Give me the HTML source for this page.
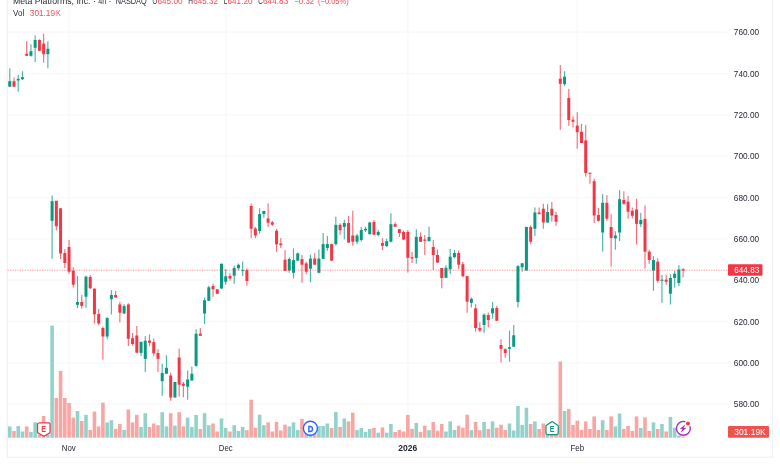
<!DOCTYPE html><html><head><meta charset="utf-8"><title>META chart</title>
<style>html,body{margin:0;padding:0;background:#fff}body{width:780px;height:470px;overflow:hidden;font-family:"Liberation Sans", sans-serif}svg{display:block;transform:translateZ(0);will-change:transform}text{font-family:"Liberation Sans", sans-serif}</style></head><body>
<svg width="780" height="470" viewBox="0 0 780 470">
<rect width="780" height="470" fill="#fff"/>
<rect x="7.5" y="31.4" width="720" height="1.6" fill="#f9f9fa"/>
<rect x="7.5" y="72.73" width="720" height="1.6" fill="#f9f9fa"/>
<rect x="7.5" y="114.06" width="720" height="1.6" fill="#f9f9fa"/>
<rect x="7.5" y="155.39" width="720" height="1.6" fill="#f9f9fa"/>
<rect x="7.5" y="196.72" width="720" height="1.6" fill="#f9f9fa"/>
<rect x="7.5" y="238.05" width="720" height="1.6" fill="#f9f9fa"/>
<rect x="7.5" y="279.38" width="720" height="1.6" fill="#f9f9fa"/>
<rect x="7.5" y="320.71" width="720" height="1.6" fill="#f9f9fa"/>
<rect x="7.5" y="362.04" width="720" height="1.6" fill="#f9f9fa"/>
<rect x="7.5" y="403.37" width="720" height="1.6" fill="#f9f9fa"/>
<rect x="68.24" y="0" width="1.6" height="437.7" fill="#f9f9fa"/>
<rect x="224.94" y="0" width="1.6" height="437.7" fill="#f9f9fa"/>
<rect x="407.04" y="0" width="1.6" height="437.7" fill="#f9f9fa"/>
<rect x="576.44" y="0" width="1.6" height="437.7" fill="#f9f9fa"/>
<rect x="6.8" y="0" width="1" height="457.5" fill="#eeeeef"/>
<rect x="772.2" y="0" width="1" height="457.5" fill="#eeeeef"/>
<rect x="6.8" y="456.7" width="766.4" height="1" fill="#eeeeef"/>
<g>
<rect x="7.95" y="426.4" width="3.6" height="11.3" fill="#92d2ca"/>
<rect x="12.18" y="431" width="3.6" height="6.7" fill="#f8a6a4"/>
<rect x="16.42" y="426" width="3.6" height="11.7" fill="#92d2ca"/>
<rect x="20.66" y="431.5" width="3.6" height="6.2" fill="#92d2ca"/>
<rect x="24.89" y="426.4" width="3.6" height="11.3" fill="#f8a6a4"/>
<rect x="29.12" y="431.9" width="3.6" height="5.8" fill="#92d2ca"/>
<rect x="33.36" y="422.4" width="3.6" height="15.3" fill="#92d2ca"/>
<rect x="37.6" y="434.7" width="3.6" height="3" fill="#f8a6a4"/>
<rect x="41.83" y="416" width="3.6" height="21.7" fill="#f8a6a4"/>
<rect x="46.07" y="434.7" width="3.6" height="3" fill="#92d2ca"/>
<rect x="50.3" y="325.7" width="3.6" height="112" fill="#92d2ca"/>
<rect x="54.54" y="398" width="3.6" height="39.7" fill="#f8a6a4"/>
<rect x="58.77" y="370.9" width="3.6" height="66.8" fill="#f8a6a4"/>
<rect x="63.01" y="398" width="3.6" height="39.7" fill="#f8a6a4"/>
<rect x="67.24" y="403" width="3.6" height="34.7" fill="#f8a6a4"/>
<rect x="71.48" y="417.7" width="3.6" height="20" fill="#f8a6a4"/>
<rect x="75.71" y="411" width="3.6" height="26.7" fill="#92d2ca"/>
<rect x="79.95" y="421" width="3.6" height="16.7" fill="#f8a6a4"/>
<rect x="84.18" y="414.9" width="3.6" height="22.8" fill="#92d2ca"/>
<rect x="88.42" y="429.9" width="3.6" height="7.8" fill="#f8a6a4"/>
<rect x="92.65" y="411.5" width="3.6" height="26.2" fill="#f8a6a4"/>
<rect x="96.89" y="426.4" width="3.6" height="11.3" fill="#f8a6a4"/>
<rect x="101.12" y="402.7" width="3.6" height="35" fill="#f8a6a4"/>
<rect x="105.36" y="422.4" width="3.6" height="15.3" fill="#92d2ca"/>
<rect x="109.59" y="420.2" width="3.6" height="17.5" fill="#92d2ca"/>
<rect x="113.83" y="428.9" width="3.6" height="8.8" fill="#f8a6a4"/>
<rect x="118.06" y="424" width="3.6" height="13.7" fill="#f8a6a4"/>
<rect x="122.3" y="429.9" width="3.6" height="7.8" fill="#92d2ca"/>
<rect x="126.53" y="409.4" width="3.6" height="28.3" fill="#f8a6a4"/>
<rect x="130.76" y="422.4" width="3.6" height="15.3" fill="#f8a6a4"/>
<rect x="135" y="414.9" width="3.6" height="22.8" fill="#f8a6a4"/>
<rect x="139.23" y="426.9" width="3.6" height="10.8" fill="#92d2ca"/>
<rect x="143.47" y="413.2" width="3.6" height="24.5" fill="#92d2ca"/>
<rect x="147.71" y="426.9" width="3.6" height="10.8" fill="#f8a6a4"/>
<rect x="151.94" y="423.5" width="3.6" height="14.2" fill="#f8a6a4"/>
<rect x="156.18" y="425.2" width="3.6" height="12.5" fill="#f8a6a4"/>
<rect x="160.41" y="412.2" width="3.6" height="25.5" fill="#92d2ca"/>
<rect x="164.65" y="426.4" width="3.6" height="11.3" fill="#92d2ca"/>
<rect x="168.88" y="413.2" width="3.6" height="24.5" fill="#f8a6a4"/>
<rect x="173.12" y="425.7" width="3.6" height="12" fill="#92d2ca"/>
<rect x="177.35" y="412.2" width="3.6" height="25.5" fill="#f8a6a4"/>
<rect x="181.59" y="426.4" width="3.6" height="11.3" fill="#f8a6a4"/>
<rect x="185.82" y="417.7" width="3.6" height="20" fill="#92d2ca"/>
<rect x="190.06" y="426.9" width="3.6" height="10.8" fill="#92d2ca"/>
<rect x="194.29" y="414.9" width="3.6" height="22.8" fill="#92d2ca"/>
<rect x="198.53" y="429" width="3.6" height="8.7" fill="#f8a6a4"/>
<rect x="202.76" y="413.2" width="3.6" height="24.5" fill="#92d2ca"/>
<rect x="207" y="425.2" width="3.6" height="12.5" fill="#92d2ca"/>
<rect x="211.23" y="423.5" width="3.6" height="14.2" fill="#f8a6a4"/>
<rect x="215.47" y="431.5" width="3.6" height="6.2" fill="#f8a6a4"/>
<rect x="219.7" y="418.5" width="3.6" height="19.2" fill="#92d2ca"/>
<rect x="223.94" y="428" width="3.6" height="9.7" fill="#92d2ca"/>
<rect x="228.17" y="431.5" width="3.6" height="6.2" fill="#f8a6a4"/>
<rect x="232.41" y="425.2" width="3.6" height="12.5" fill="#92d2ca"/>
<rect x="236.64" y="431" width="3.6" height="6.7" fill="#92d2ca"/>
<rect x="240.88" y="426.9" width="3.6" height="10.8" fill="#92d2ca"/>
<rect x="245.11" y="430.2" width="3.6" height="7.5" fill="#f8a6a4"/>
<rect x="249.34" y="399.7" width="3.6" height="38" fill="#f8a6a4"/>
<rect x="253.58" y="427.7" width="3.6" height="10" fill="#f8a6a4"/>
<rect x="257.81" y="414.7" width="3.6" height="23" fill="#92d2ca"/>
<rect x="262.05" y="425.2" width="3.6" height="12.5" fill="#92d2ca"/>
<rect x="266.29" y="422.4" width="3.6" height="15.3" fill="#f8a6a4"/>
<rect x="270.52" y="431.5" width="3.6" height="6.2" fill="#f8a6a4"/>
<rect x="274.75" y="421.9" width="3.6" height="15.8" fill="#f8a6a4"/>
<rect x="278.99" y="430.5" width="3.6" height="7.2" fill="#f8a6a4"/>
<rect x="283.23" y="424.7" width="3.6" height="13" fill="#f8a6a4"/>
<rect x="287.46" y="426.4" width="3.6" height="11.3" fill="#92d2ca"/>
<rect x="291.69" y="422.4" width="3.6" height="15.3" fill="#92d2ca"/>
<rect x="295.93" y="429.9" width="3.6" height="7.8" fill="#92d2ca"/>
<rect x="300.17" y="418.9" width="3.6" height="18.8" fill="#f8a6a4"/>
<rect x="304.4" y="429.7" width="3.6" height="8" fill="#f8a6a4"/>
<rect x="308.63" y="431.7" width="3.6" height="6" fill="#92d2ca"/>
<rect x="312.87" y="430.7" width="3.6" height="7" fill="#f8a6a4"/>
<rect x="317.11" y="426" width="3.6" height="11.7" fill="#92d2ca"/>
<rect x="321.34" y="426" width="3.6" height="11.7" fill="#92d2ca"/>
<rect x="325.57" y="423.5" width="3.6" height="14.2" fill="#92d2ca"/>
<rect x="329.81" y="428" width="3.6" height="9.7" fill="#f8a6a4"/>
<rect x="334.05" y="411.9" width="3.6" height="25.8" fill="#92d2ca"/>
<rect x="338.28" y="426.9" width="3.6" height="10.8" fill="#f8a6a4"/>
<rect x="342.51" y="418.5" width="3.6" height="19.2" fill="#92d2ca"/>
<rect x="346.75" y="421.4" width="3.6" height="16.3" fill="#f8a6a4"/>
<rect x="350.99" y="412.7" width="3.6" height="25" fill="#f8a6a4"/>
<rect x="355.22" y="429.9" width="3.6" height="7.8" fill="#92d2ca"/>
<rect x="359.46" y="428" width="3.6" height="9.7" fill="#92d2ca"/>
<rect x="363.69" y="431.9" width="3.6" height="5.8" fill="#92d2ca"/>
<rect x="367.93" y="428.9" width="3.6" height="8.8" fill="#92d2ca"/>
<rect x="372.16" y="428" width="3.6" height="9.7" fill="#f8a6a4"/>
<rect x="376.4" y="432.7" width="3.6" height="5" fill="#92d2ca"/>
<rect x="380.63" y="427.4" width="3.6" height="10.3" fill="#f8a6a4"/>
<rect x="384.87" y="432.7" width="3.6" height="5" fill="#92d2ca"/>
<rect x="389.1" y="424" width="3.6" height="13.7" fill="#92d2ca"/>
<rect x="393.34" y="431.9" width="3.6" height="5.8" fill="#f8a6a4"/>
<rect x="397.57" y="429.9" width="3.6" height="7.8" fill="#f8a6a4"/>
<rect x="401.81" y="431.5" width="3.6" height="6.2" fill="#f8a6a4"/>
<rect x="406.04" y="414.9" width="3.6" height="22.8" fill="#f8a6a4"/>
<rect x="410.28" y="428.9" width="3.6" height="8.8" fill="#f8a6a4"/>
<rect x="414.51" y="423" width="3.6" height="14.7" fill="#92d2ca"/>
<rect x="418.75" y="431.9" width="3.6" height="5.8" fill="#f8a6a4"/>
<rect x="422.98" y="425.7" width="3.6" height="12" fill="#f8a6a4"/>
<rect x="427.22" y="430.2" width="3.6" height="7.5" fill="#92d2ca"/>
<rect x="431.45" y="421.9" width="3.6" height="15.8" fill="#f8a6a4"/>
<rect x="435.69" y="430.7" width="3.6" height="7" fill="#f8a6a4"/>
<rect x="439.92" y="424" width="3.6" height="13.7" fill="#f8a6a4"/>
<rect x="444.16" y="431.5" width="3.6" height="6.2" fill="#92d2ca"/>
<rect x="448.39" y="421.4" width="3.6" height="16.3" fill="#92d2ca"/>
<rect x="452.62" y="429.9" width="3.6" height="7.8" fill="#92d2ca"/>
<rect x="456.86" y="425.7" width="3.6" height="12" fill="#f8a6a4"/>
<rect x="461.1" y="427.7" width="3.6" height="10" fill="#f8a6a4"/>
<rect x="465.33" y="414.7" width="3.6" height="23" fill="#f8a6a4"/>
<rect x="469.56" y="430.2" width="3.6" height="7.5" fill="#92d2ca"/>
<rect x="473.8" y="421.9" width="3.6" height="15.8" fill="#f8a6a4"/>
<rect x="478.04" y="430.2" width="3.6" height="7.5" fill="#f8a6a4"/>
<rect x="482.27" y="421.9" width="3.6" height="15.8" fill="#92d2ca"/>
<rect x="486.51" y="428.9" width="3.6" height="8.8" fill="#f8a6a4"/>
<rect x="490.74" y="421.4" width="3.6" height="16.3" fill="#92d2ca"/>
<rect x="494.98" y="427.7" width="3.6" height="10" fill="#f8a6a4"/>
<rect x="499.21" y="424.7" width="3.6" height="13" fill="#f8a6a4"/>
<rect x="503.45" y="429.9" width="3.6" height="7.8" fill="#f8a6a4"/>
<rect x="507.68" y="423.5" width="3.6" height="14.2" fill="#92d2ca"/>
<rect x="511.92" y="430.5" width="3.6" height="7.2" fill="#92d2ca"/>
<rect x="516.15" y="406" width="3.6" height="31.7" fill="#92d2ca"/>
<rect x="520.39" y="424.9" width="3.6" height="12.8" fill="#92d2ca"/>
<rect x="524.62" y="407.7" width="3.6" height="30" fill="#92d2ca"/>
<rect x="528.86" y="424" width="3.6" height="13.7" fill="#f8a6a4"/>
<rect x="533.09" y="421.4" width="3.6" height="16.3" fill="#92d2ca"/>
<rect x="537.33" y="429" width="3.6" height="8.7" fill="#f8a6a4"/>
<rect x="541.56" y="423.5" width="3.6" height="14.2" fill="#f8a6a4"/>
<rect x="545.8" y="431.7" width="3.6" height="6" fill="#92d2ca"/>
<rect x="550.03" y="431.7" width="3.6" height="6" fill="#f8a6a4"/>
<rect x="554.27" y="431.7" width="3.6" height="6" fill="#f8a6a4"/>
<rect x="558.5" y="361.5" width="3.6" height="76.2" fill="#f8a6a4"/>
<rect x="562.74" y="411" width="3.6" height="26.7" fill="#92d2ca"/>
<rect x="566.97" y="408.9" width="3.6" height="28.8" fill="#f8a6a4"/>
<rect x="571.21" y="424.9" width="3.6" height="12.8" fill="#f8a6a4"/>
<rect x="575.44" y="420.7" width="3.6" height="17" fill="#f8a6a4"/>
<rect x="579.68" y="429.9" width="3.6" height="7.8" fill="#f8a6a4"/>
<rect x="583.91" y="421.4" width="3.6" height="16.3" fill="#f8a6a4"/>
<rect x="588.15" y="429" width="3.6" height="8.7" fill="#f8a6a4"/>
<rect x="592.38" y="416.4" width="3.6" height="21.3" fill="#f8a6a4"/>
<rect x="596.62" y="429.9" width="3.6" height="7.8" fill="#f8a6a4"/>
<rect x="600.85" y="420.2" width="3.6" height="17.5" fill="#92d2ca"/>
<rect x="605.09" y="429.9" width="3.6" height="7.8" fill="#f8a6a4"/>
<rect x="609.32" y="416.4" width="3.6" height="21.3" fill="#f8a6a4"/>
<rect x="613.56" y="426.4" width="3.6" height="11.3" fill="#92d2ca"/>
<rect x="617.79" y="413.5" width="3.6" height="24.2" fill="#92d2ca"/>
<rect x="622.03" y="428.9" width="3.6" height="8.8" fill="#f8a6a4"/>
<rect x="626.26" y="426" width="3.6" height="11.7" fill="#f8a6a4"/>
<rect x="630.5" y="431" width="3.6" height="6.7" fill="#f8a6a4"/>
<rect x="634.73" y="416.4" width="3.6" height="21.3" fill="#f8a6a4"/>
<rect x="638.97" y="428" width="3.6" height="9.7" fill="#92d2ca"/>
<rect x="643.2" y="417.4" width="3.6" height="20.3" fill="#f8a6a4"/>
<rect x="647.44" y="431" width="3.6" height="6.7" fill="#f8a6a4"/>
<rect x="651.67" y="422.4" width="3.6" height="15.3" fill="#92d2ca"/>
<rect x="655.91" y="429" width="3.6" height="8.7" fill="#f8a6a4"/>
<rect x="660.14" y="424" width="3.6" height="13.7" fill="#92d2ca"/>
<rect x="664.38" y="431.5" width="3.6" height="6.2" fill="#f8a6a4"/>
<rect x="668.61" y="416.9" width="3.6" height="20.8" fill="#92d2ca"/>
<rect x="672.85" y="427.7" width="3.6" height="10" fill="#92d2ca"/>
<rect x="677.08" y="435.5" width="3.6" height="2.2" fill="#92d2ca"/>
<rect x="681.32" y="436.5" width="3.6" height="1.2" fill="#f8a6a4"/>
</g>
<g>
<rect x="9.18" y="68.3" width="1.15" height="18.4" fill="#089981" fill-opacity="0.72"/>
<rect x="8.25" y="81.2" width="3" height="5.5" fill="#089981"/>
<rect x="13.41" y="77.5" width="1.15" height="9.7" fill="#f23645" fill-opacity="0.72"/>
<rect x="12.48" y="81.2" width="3" height="5.5" fill="#f23645"/>
<rect x="17.64" y="75" width="1.15" height="16.7" fill="#089981" fill-opacity="0.72"/>
<rect x="16.72" y="78.8" width="3" height="1.7" fill="#089981"/>
<rect x="21.88" y="71.2" width="1.15" height="8.8" fill="#089981" fill-opacity="0.72"/>
<rect x="20.96" y="77.2" width="3" height="2" fill="#089981"/>
<rect x="26.12" y="41.2" width="1.15" height="14.6" fill="#f23645" fill-opacity="0.72"/>
<rect x="25.19" y="53.8" width="3" height="2" fill="#f23645"/>
<rect x="30.35" y="44.2" width="1.15" height="12.5" fill="#089981" fill-opacity="0.72"/>
<rect x="29.43" y="51.2" width="3" height="4.6" fill="#089981"/>
<rect x="34.59" y="35.5" width="1.15" height="26.5" fill="#089981" fill-opacity="0.72"/>
<rect x="33.66" y="40" width="3" height="7.8" fill="#089981"/>
<rect x="38.82" y="39.2" width="1.15" height="12" fill="#f23645" fill-opacity="0.72"/>
<rect x="37.9" y="40" width="3" height="10.8" fill="#f23645"/>
<rect x="43.05" y="33.8" width="1.15" height="29" fill="#f23645" fill-opacity="0.72"/>
<rect x="42.13" y="43.7" width="3" height="10.5" fill="#f23645"/>
<rect x="47.29" y="41.2" width="1.15" height="27.1" fill="#089981" fill-opacity="0.72"/>
<rect x="46.37" y="48.8" width="3" height="5.4" fill="#089981"/>
<rect x="51.52" y="195.5" width="1.15" height="63.2" fill="#089981" fill-opacity="0.72"/>
<rect x="50.6" y="201.2" width="3" height="19.6" fill="#089981"/>
<rect x="55.76" y="200.8" width="1.15" height="29.7" fill="#f23645" fill-opacity="0.72"/>
<rect x="54.84" y="200.8" width="3" height="25.4" fill="#f23645"/>
<rect x="60" y="208" width="1.15" height="51" fill="#f23645" fill-opacity="0.72"/>
<rect x="59.07" y="208.3" width="3" height="45.2" fill="#f23645"/>
<rect x="64.23" y="249.2" width="1.15" height="18.8" fill="#f23645" fill-opacity="0.72"/>
<rect x="63.31" y="253" width="3" height="10" fill="#f23645"/>
<rect x="68.47" y="240" width="1.15" height="33.8" fill="#f23645" fill-opacity="0.72"/>
<rect x="67.54" y="247" width="3" height="24.7" fill="#f23645"/>
<rect x="72.7" y="267.2" width="1.15" height="20.3" fill="#f23645" fill-opacity="0.72"/>
<rect x="71.78" y="270.8" width="3" height="13.9" fill="#f23645"/>
<rect x="76.94" y="276.2" width="1.15" height="32" fill="#089981" fill-opacity="0.72"/>
<rect x="76.01" y="302" width="3" height="2.8" fill="#089981"/>
<rect x="81.17" y="295" width="1.15" height="13.6" fill="#f23645" fill-opacity="0.72"/>
<rect x="80.25" y="302" width="3" height="3.9" fill="#f23645"/>
<rect x="85.41" y="275.5" width="1.15" height="32.3" fill="#089981" fill-opacity="0.72"/>
<rect x="84.48" y="276.7" width="3" height="20" fill="#089981"/>
<rect x="89.64" y="275" width="1.15" height="13.7" fill="#f23645" fill-opacity="0.72"/>
<rect x="88.72" y="277" width="3" height="11.3" fill="#f23645"/>
<rect x="93.88" y="288.3" width="1.15" height="35.2" fill="#f23645" fill-opacity="0.72"/>
<rect x="92.95" y="288.7" width="3" height="25.6" fill="#f23645"/>
<rect x="98.11" y="309" width="1.15" height="16.2" fill="#f23645" fill-opacity="0.72"/>
<rect x="97.19" y="314" width="3" height="9.5" fill="#f23645"/>
<rect x="102.34" y="326.5" width="1.15" height="33.2" fill="#f23645" fill-opacity="0.72"/>
<rect x="101.42" y="328" width="3" height="8.5" fill="#f23645"/>
<rect x="106.58" y="317.2" width="1.15" height="22.1" fill="#089981" fill-opacity="0.72"/>
<rect x="105.66" y="318" width="3" height="18.5" fill="#089981"/>
<rect x="110.82" y="290" width="1.15" height="24.5" fill="#089981" fill-opacity="0.72"/>
<rect x="109.89" y="295" width="3" height="4.2" fill="#089981"/>
<rect x="115.05" y="290.8" width="1.15" height="7" fill="#f23645" fill-opacity="0.72"/>
<rect x="114.13" y="295" width="3" height="2.5" fill="#f23645"/>
<rect x="119.29" y="301.7" width="1.15" height="20.6" fill="#f23645" fill-opacity="0.72"/>
<rect x="118.36" y="304.5" width="3" height="8.2" fill="#f23645"/>
<rect x="123.52" y="304.2" width="1.15" height="9.9" fill="#089981" fill-opacity="0.72"/>
<rect x="122.6" y="306.1" width="3" height="7.3" fill="#089981"/>
<rect x="127.76" y="303.2" width="1.15" height="42.8" fill="#f23645" fill-opacity="0.72"/>
<rect x="126.83" y="304.5" width="3" height="34.3" fill="#f23645"/>
<rect x="131.99" y="333" width="1.15" height="12.7" fill="#f23645" fill-opacity="0.72"/>
<rect x="131.06" y="338.2" width="3" height="5.8" fill="#f23645"/>
<rect x="136.23" y="326" width="1.15" height="27.2" fill="#f23645" fill-opacity="0.72"/>
<rect x="135.3" y="335.5" width="3" height="17.2" fill="#f23645"/>
<rect x="140.46" y="341.8" width="1.15" height="14.2" fill="#089981" fill-opacity="0.72"/>
<rect x="139.53" y="341.8" width="3" height="11.1" fill="#089981"/>
<rect x="144.7" y="336.1" width="1.15" height="36" fill="#089981" fill-opacity="0.72"/>
<rect x="143.77" y="340.8" width="3" height="18.1" fill="#089981"/>
<rect x="148.93" y="334.4" width="1.15" height="11.7" fill="#f23645" fill-opacity="0.72"/>
<rect x="148.01" y="340.6" width="3" height="2.2" fill="#f23645"/>
<rect x="153.17" y="338.4" width="1.15" height="17.7" fill="#f23645" fill-opacity="0.72"/>
<rect x="152.24" y="342.1" width="3" height="11.3" fill="#f23645"/>
<rect x="157.4" y="349.2" width="1.15" height="22.6" fill="#f23645" fill-opacity="0.72"/>
<rect x="156.48" y="353" width="3" height="5.9" fill="#f23645"/>
<rect x="161.64" y="363.7" width="1.15" height="32.1" fill="#089981" fill-opacity="0.72"/>
<rect x="160.71" y="373" width="3" height="8.2" fill="#089981"/>
<rect x="165.87" y="355.3" width="1.15" height="18.9" fill="#089981" fill-opacity="0.72"/>
<rect x="164.95" y="367.8" width="3" height="5.9" fill="#089981"/>
<rect x="170.11" y="372.5" width="1.15" height="28.3" fill="#f23645" fill-opacity="0.72"/>
<rect x="169.18" y="375.5" width="3" height="22" fill="#f23645"/>
<rect x="174.34" y="382" width="1.15" height="15.5" fill="#089981" fill-opacity="0.72"/>
<rect x="173.42" y="382" width="3" height="15.5" fill="#089981"/>
<rect x="178.58" y="348.7" width="1.15" height="48" fill="#f23645" fill-opacity="0.72"/>
<rect x="177.65" y="357.5" width="3" height="27.2" fill="#f23645"/>
<rect x="182.81" y="382" width="1.15" height="15.2" fill="#f23645" fill-opacity="0.72"/>
<rect x="181.89" y="383.7" width="3" height="2.1" fill="#f23645"/>
<rect x="187.05" y="370.5" width="1.15" height="29.2" fill="#089981" fill-opacity="0.72"/>
<rect x="186.12" y="379.5" width="3" height="7.2" fill="#089981"/>
<rect x="191.28" y="366.7" width="1.15" height="14.1" fill="#089981" fill-opacity="0.72"/>
<rect x="190.36" y="373.8" width="3" height="6.7" fill="#089981"/>
<rect x="195.52" y="329.3" width="1.15" height="37.4" fill="#089981" fill-opacity="0.72"/>
<rect x="194.59" y="333.8" width="3" height="32" fill="#089981"/>
<rect x="199.75" y="328" width="1.15" height="8" fill="#f23645" fill-opacity="0.72"/>
<rect x="198.83" y="333.7" width="3" height="2.1" fill="#f23645"/>
<rect x="203.99" y="297.7" width="1.15" height="26.3" fill="#089981" fill-opacity="0.72"/>
<rect x="203.06" y="300.2" width="3" height="13.3" fill="#089981"/>
<rect x="208.22" y="285.7" width="1.15" height="15.3" fill="#089981" fill-opacity="0.72"/>
<rect x="207.3" y="287.3" width="3" height="13.4" fill="#089981"/>
<rect x="212.46" y="283.8" width="1.15" height="13" fill="#f23645" fill-opacity="0.72"/>
<rect x="211.53" y="286" width="3" height="3.3" fill="#f23645"/>
<rect x="216.69" y="289" width="1.15" height="5" fill="#f23645" fill-opacity="0.72"/>
<rect x="215.77" y="289.3" width="3" height="4.5" fill="#f23645"/>
<rect x="220.93" y="263.5" width="1.15" height="25.3" fill="#089981" fill-opacity="0.72"/>
<rect x="220" y="263.8" width="3" height="24.7" fill="#089981"/>
<rect x="225.16" y="269" width="1.15" height="15.7" fill="#089981" fill-opacity="0.72"/>
<rect x="224.24" y="276.3" width="3" height="5.5" fill="#089981"/>
<rect x="229.4" y="273.2" width="1.15" height="7.5" fill="#f23645" fill-opacity="0.72"/>
<rect x="228.47" y="276" width="3" height="2.5" fill="#f23645"/>
<rect x="233.63" y="265.7" width="1.15" height="18.1" fill="#089981" fill-opacity="0.72"/>
<rect x="232.71" y="268" width="3" height="7.7" fill="#089981"/>
<rect x="237.87" y="263.5" width="1.15" height="6.7" fill="#089981" fill-opacity="0.72"/>
<rect x="236.94" y="264.8" width="3" height="3.4" fill="#089981"/>
<rect x="242.1" y="261.5" width="1.15" height="14.5" fill="#089981" fill-opacity="0.72"/>
<rect x="241.18" y="270.2" width="3" height="0.9" fill="#089981"/>
<rect x="246.34" y="268.5" width="1.15" height="17.2" fill="#f23645" fill-opacity="0.72"/>
<rect x="245.41" y="270.2" width="3" height="10.8" fill="#f23645"/>
<rect x="250.57" y="203.5" width="1.15" height="34.7" fill="#f23645" fill-opacity="0.72"/>
<rect x="249.65" y="206" width="3" height="22.8" fill="#f23645"/>
<rect x="254.81" y="226.8" width="1.15" height="11.4" fill="#f23645" fill-opacity="0.72"/>
<rect x="253.88" y="228.5" width="3" height="7" fill="#f23645"/>
<rect x="259.04" y="208.2" width="1.15" height="25.6" fill="#089981" fill-opacity="0.72"/>
<rect x="258.12" y="214" width="3" height="17" fill="#089981"/>
<rect x="263.28" y="210.7" width="1.15" height="7" fill="#089981" fill-opacity="0.72"/>
<rect x="262.35" y="211" width="3" height="3" fill="#089981"/>
<rect x="267.51" y="203.5" width="1.15" height="23.3" fill="#f23645" fill-opacity="0.72"/>
<rect x="266.59" y="218.5" width="3" height="4.2" fill="#f23645"/>
<rect x="271.75" y="221" width="1.15" height="5" fill="#f23645" fill-opacity="0.72"/>
<rect x="270.82" y="222.3" width="3" height="2.4" fill="#f23645"/>
<rect x="275.98" y="228.8" width="1.15" height="23" fill="#f23645" fill-opacity="0.72"/>
<rect x="275.06" y="230.7" width="3" height="13.6" fill="#f23645"/>
<rect x="280.22" y="238.2" width="1.15" height="9.8" fill="#f23645" fill-opacity="0.72"/>
<rect x="279.29" y="243.5" width="3" height="1.7" fill="#f23645"/>
<rect x="284.45" y="250.2" width="1.15" height="20.8" fill="#f23645" fill-opacity="0.72"/>
<rect x="283.53" y="259.7" width="3" height="11.1" fill="#f23645"/>
<rect x="288.69" y="257.3" width="1.15" height="15.4" fill="#089981" fill-opacity="0.72"/>
<rect x="287.76" y="259" width="3" height="11.4" fill="#089981"/>
<rect x="292.92" y="248.4" width="1.15" height="30" fill="#089981" fill-opacity="0.72"/>
<rect x="292" y="260.1" width="3" height="12.7" fill="#089981"/>
<rect x="297.16" y="252.6" width="1.15" height="8.3" fill="#089981" fill-opacity="0.72"/>
<rect x="296.23" y="253.4" width="3" height="7.2" fill="#089981"/>
<rect x="301.39" y="255.1" width="1.15" height="27.7" fill="#f23645" fill-opacity="0.72"/>
<rect x="300.47" y="259.1" width="3" height="5.6" fill="#f23645"/>
<rect x="305.63" y="261.7" width="1.15" height="12.5" fill="#f23645" fill-opacity="0.72"/>
<rect x="304.7" y="263.4" width="3" height="8.3" fill="#f23645"/>
<rect x="309.86" y="254.5" width="1.15" height="27.7" fill="#089981" fill-opacity="0.72"/>
<rect x="308.94" y="258.6" width="3" height="10.1" fill="#089981"/>
<rect x="314.1" y="253.1" width="1.15" height="11.8" fill="#f23645" fill-opacity="0.72"/>
<rect x="313.17" y="258.6" width="3" height="6.1" fill="#f23645"/>
<rect x="318.33" y="249.5" width="1.15" height="23.8" fill="#089981" fill-opacity="0.72"/>
<rect x="317.41" y="258.6" width="3" height="14.2" fill="#089981"/>
<rect x="322.57" y="233" width="1.15" height="26.2" fill="#089981" fill-opacity="0.72"/>
<rect x="321.64" y="244.1" width="3" height="14.8" fill="#089981"/>
<rect x="326.8" y="235.9" width="1.15" height="14.9" fill="#089981" fill-opacity="0.72"/>
<rect x="325.88" y="244.1" width="3" height="3.9" fill="#089981"/>
<rect x="331.04" y="243.6" width="1.15" height="17.3" fill="#f23645" fill-opacity="0.72"/>
<rect x="330.11" y="244.1" width="3" height="16.5" fill="#f23645"/>
<rect x="335.27" y="216.7" width="1.15" height="28.8" fill="#089981" fill-opacity="0.72"/>
<rect x="334.35" y="224.9" width="3" height="19.3" fill="#089981"/>
<rect x="339.51" y="223.2" width="1.15" height="11.5" fill="#f23645" fill-opacity="0.72"/>
<rect x="338.58" y="224.9" width="3" height="5.3" fill="#f23645"/>
<rect x="343.74" y="219.7" width="1.15" height="19.7" fill="#089981" fill-opacity="0.72"/>
<rect x="342.81" y="223" width="3" height="3.9" fill="#089981"/>
<rect x="347.98" y="215.9" width="1.15" height="26.9" fill="#f23645" fill-opacity="0.72"/>
<rect x="347.05" y="223" width="3" height="19.6" fill="#f23645"/>
<rect x="352.21" y="210.6" width="1.15" height="35.2" fill="#f23645" fill-opacity="0.72"/>
<rect x="351.29" y="235.5" width="3" height="6.2" fill="#f23645"/>
<rect x="356.45" y="234" width="1.15" height="10.2" fill="#089981" fill-opacity="0.72"/>
<rect x="355.52" y="235.5" width="3" height="6.2" fill="#089981"/>
<rect x="360.68" y="227" width="1.15" height="14.7" fill="#089981" fill-opacity="0.72"/>
<rect x="359.76" y="230" width="3" height="10" fill="#089981"/>
<rect x="364.92" y="226.7" width="1.15" height="5.3" fill="#089981" fill-opacity="0.72"/>
<rect x="363.99" y="228.8" width="3" height="1.5" fill="#089981"/>
<rect x="369.15" y="221.7" width="1.15" height="12.8" fill="#089981" fill-opacity="0.72"/>
<rect x="368.23" y="222.5" width="3" height="11.7" fill="#089981"/>
<rect x="373.39" y="220" width="1.15" height="15" fill="#f23645" fill-opacity="0.72"/>
<rect x="372.46" y="222" width="3" height="12.7" fill="#f23645"/>
<rect x="377.62" y="230" width="1.15" height="6.3" fill="#089981" fill-opacity="0.72"/>
<rect x="376.7" y="232" width="3" height="3" fill="#089981"/>
<rect x="381.86" y="238.3" width="1.15" height="11.7" fill="#f23645" fill-opacity="0.72"/>
<rect x="380.93" y="243" width="3" height="2.8" fill="#f23645"/>
<rect x="386.09" y="238.7" width="1.15" height="8" fill="#089981" fill-opacity="0.72"/>
<rect x="385.17" y="241.2" width="3" height="5" fill="#089981"/>
<rect x="390.33" y="213.3" width="1.15" height="29.2" fill="#089981" fill-opacity="0.72"/>
<rect x="389.4" y="224.2" width="3" height="17.5" fill="#089981"/>
<rect x="394.56" y="222.2" width="1.15" height="4.8" fill="#f23645" fill-opacity="0.72"/>
<rect x="393.64" y="224.2" width="3" height="2.5" fill="#f23645"/>
<rect x="398.8" y="228.7" width="1.15" height="8.3" fill="#f23645" fill-opacity="0.72"/>
<rect x="397.87" y="229.2" width="3" height="3.8" fill="#f23645"/>
<rect x="403.03" y="230.5" width="1.15" height="9.5" fill="#f23645" fill-opacity="0.72"/>
<rect x="402.11" y="232" width="3" height="7.5" fill="#f23645"/>
<rect x="407.27" y="230" width="1.15" height="42.5" fill="#f23645" fill-opacity="0.72"/>
<rect x="406.34" y="232" width="3" height="25.8" fill="#f23645"/>
<rect x="411.5" y="252" width="1.15" height="11" fill="#f23645" fill-opacity="0.72"/>
<rect x="410.58" y="257.2" width="3" height="1.3" fill="#f23645"/>
<rect x="415.74" y="229.2" width="1.15" height="34.5" fill="#089981" fill-opacity="0.72"/>
<rect x="414.81" y="236.8" width="3" height="21.1" fill="#089981"/>
<rect x="419.97" y="232.5" width="1.15" height="9.5" fill="#f23645" fill-opacity="0.72"/>
<rect x="419.05" y="236.7" width="3" height="5" fill="#f23645"/>
<rect x="424.21" y="235" width="1.15" height="20" fill="#f23645" fill-opacity="0.72"/>
<rect x="423.28" y="239.5" width="3" height="1.3" fill="#f23645"/>
<rect x="428.44" y="226.7" width="1.15" height="14.6" fill="#089981" fill-opacity="0.72"/>
<rect x="427.52" y="237" width="3" height="4.2" fill="#089981"/>
<rect x="432.68" y="240" width="1.15" height="30" fill="#f23645" fill-opacity="0.72"/>
<rect x="431.75" y="247" width="3" height="8" fill="#f23645"/>
<rect x="436.91" y="249.5" width="1.15" height="13.5" fill="#f23645" fill-opacity="0.72"/>
<rect x="435.99" y="255" width="3" height="7.5" fill="#f23645"/>
<rect x="441.15" y="268" width="1.15" height="20.3" fill="#f23645" fill-opacity="0.72"/>
<rect x="440.22" y="268" width="3" height="10" fill="#f23645"/>
<rect x="445.38" y="265.3" width="1.15" height="12.7" fill="#089981" fill-opacity="0.72"/>
<rect x="444.46" y="267.8" width="3" height="10" fill="#089981"/>
<rect x="449.62" y="248.8" width="1.15" height="25" fill="#089981" fill-opacity="0.72"/>
<rect x="448.69" y="256.7" width="3" height="12.5" fill="#089981"/>
<rect x="453.85" y="250" width="1.15" height="8.3" fill="#089981" fill-opacity="0.72"/>
<rect x="452.93" y="253" width="3" height="4.2" fill="#089981"/>
<rect x="458.09" y="250.5" width="1.15" height="18.7" fill="#f23645" fill-opacity="0.72"/>
<rect x="457.16" y="253" width="3" height="11.7" fill="#f23645"/>
<rect x="462.32" y="262" width="1.15" height="15.2" fill="#f23645" fill-opacity="0.72"/>
<rect x="461.4" y="264.2" width="3" height="12" fill="#f23645"/>
<rect x="466.56" y="275.8" width="1.15" height="37" fill="#f23645" fill-opacity="0.72"/>
<rect x="465.63" y="276.2" width="3" height="25.5" fill="#f23645"/>
<rect x="470.79" y="297.5" width="1.15" height="10" fill="#089981" fill-opacity="0.72"/>
<rect x="469.87" y="298.8" width="3" height="4" fill="#089981"/>
<rect x="475.03" y="304.2" width="1.15" height="27.5" fill="#f23645" fill-opacity="0.72"/>
<rect x="474.1" y="308.3" width="3" height="19.7" fill="#f23645"/>
<rect x="479.26" y="322.2" width="1.15" height="9.8" fill="#f23645" fill-opacity="0.72"/>
<rect x="478.34" y="328" width="3" height="2.5" fill="#f23645"/>
<rect x="483.5" y="313.3" width="1.15" height="19.7" fill="#089981" fill-opacity="0.72"/>
<rect x="482.57" y="314.7" width="3" height="10.3" fill="#089981"/>
<rect x="487.73" y="312.5" width="1.15" height="15" fill="#f23645" fill-opacity="0.72"/>
<rect x="486.81" y="315" width="3" height="5" fill="#f23645"/>
<rect x="491.97" y="302" width="1.15" height="16.7" fill="#089981" fill-opacity="0.72"/>
<rect x="491.04" y="308.3" width="3" height="5" fill="#089981"/>
<rect x="496.2" y="305.8" width="1.15" height="15" fill="#f23645" fill-opacity="0.72"/>
<rect x="495.28" y="308" width="3" height="12.8" fill="#f23645"/>
<rect x="500.44" y="339.2" width="1.15" height="23.3" fill="#f23645" fill-opacity="0.72"/>
<rect x="499.51" y="345" width="3" height="3.8" fill="#f23645"/>
<rect x="504.67" y="348.3" width="1.15" height="9.5" fill="#f23645" fill-opacity="0.72"/>
<rect x="503.75" y="349.2" width="3" height="3.8" fill="#f23645"/>
<rect x="508.91" y="330.5" width="1.15" height="31.2" fill="#089981" fill-opacity="0.72"/>
<rect x="507.98" y="347.2" width="3" height="1.6" fill="#089981"/>
<rect x="513.14" y="325" width="1.15" height="21.7" fill="#089981" fill-opacity="0.72"/>
<rect x="512.22" y="335.3" width="3" height="11.4" fill="#089981"/>
<rect x="517.38" y="265" width="1.15" height="42.5" fill="#089981" fill-opacity="0.72"/>
<rect x="516.45" y="266.2" width="3" height="35.8" fill="#089981"/>
<rect x="521.61" y="263" width="1.15" height="8.7" fill="#089981" fill-opacity="0.72"/>
<rect x="520.69" y="263.3" width="3" height="3.9" fill="#089981"/>
<rect x="525.85" y="226.7" width="1.15" height="44.1" fill="#089981" fill-opacity="0.72"/>
<rect x="524.92" y="227" width="3" height="43.5" fill="#089981"/>
<rect x="530.08" y="225.2" width="1.15" height="19" fill="#f23645" fill-opacity="0.72"/>
<rect x="529.16" y="227" width="3" height="14.7" fill="#f23645"/>
<rect x="534.31" y="207.5" width="1.15" height="28.7" fill="#089981" fill-opacity="0.72"/>
<rect x="533.39" y="212.5" width="3" height="16.3" fill="#089981"/>
<rect x="538.55" y="207.5" width="1.15" height="6.7" fill="#f23645" fill-opacity="0.72"/>
<rect x="537.62" y="212.5" width="3" height="1.7" fill="#f23645"/>
<rect x="542.78" y="203.8" width="1.15" height="25" fill="#f23645" fill-opacity="0.72"/>
<rect x="541.86" y="208.7" width="3" height="13.8" fill="#f23645"/>
<rect x="547.02" y="204.2" width="1.15" height="18.3" fill="#089981" fill-opacity="0.72"/>
<rect x="546.1" y="212" width="3" height="10.5" fill="#089981"/>
<rect x="551.25" y="202" width="1.15" height="19.7" fill="#f23645" fill-opacity="0.72"/>
<rect x="550.33" y="208.8" width="3" height="6.7" fill="#f23645"/>
<rect x="555.49" y="212" width="1.15" height="13.8" fill="#f23645" fill-opacity="0.72"/>
<rect x="554.57" y="215" width="3" height="6.7" fill="#f23645"/>
<rect x="559.73" y="65" width="1.15" height="64.8" fill="#f23645" fill-opacity="0.72"/>
<rect x="558.8" y="78.7" width="3" height="5.1" fill="#f23645"/>
<rect x="563.96" y="71.2" width="1.15" height="15" fill="#089981" fill-opacity="0.72"/>
<rect x="563.04" y="76.7" width="3" height="7.5" fill="#089981"/>
<rect x="568.2" y="88.8" width="1.15" height="37" fill="#f23645" fill-opacity="0.72"/>
<rect x="567.27" y="98" width="3" height="22" fill="#f23645"/>
<rect x="572.43" y="116.3" width="1.15" height="11.1" fill="#f23645" fill-opacity="0.72"/>
<rect x="571.5" y="119.7" width="3" height="2" fill="#f23645"/>
<rect x="576.66" y="112.2" width="1.15" height="36.6" fill="#f23645" fill-opacity="0.72"/>
<rect x="575.74" y="125.6" width="3" height="6.6" fill="#f23645"/>
<rect x="580.9" y="123.8" width="1.15" height="19.2" fill="#f23645" fill-opacity="0.72"/>
<rect x="579.98" y="131.7" width="3" height="11.3" fill="#f23645"/>
<rect x="585.13" y="125" width="1.15" height="51.7" fill="#f23645" fill-opacity="0.72"/>
<rect x="584.21" y="140.5" width="3" height="32.5" fill="#f23645"/>
<rect x="589.37" y="172.7" width="1.15" height="11.1" fill="#f23645" fill-opacity="0.72"/>
<rect x="588.45" y="172.7" width="3" height="1.1" fill="#f23645"/>
<rect x="593.61" y="178.7" width="1.15" height="44.3" fill="#f23645" fill-opacity="0.72"/>
<rect x="592.68" y="181.2" width="3" height="34.3" fill="#f23645"/>
<rect x="597.84" y="208" width="1.15" height="13.7" fill="#f23645" fill-opacity="0.72"/>
<rect x="596.92" y="215" width="3" height="5.8" fill="#f23645"/>
<rect x="602.08" y="194.1" width="1.15" height="57.6" fill="#089981" fill-opacity="0.72"/>
<rect x="601.15" y="202.8" width="3" height="29.7" fill="#089981"/>
<rect x="606.31" y="195.2" width="1.15" height="25.6" fill="#f23645" fill-opacity="0.72"/>
<rect x="605.38" y="202.8" width="3" height="15.9" fill="#f23645"/>
<rect x="610.54" y="214.2" width="1.15" height="52.5" fill="#f23645" fill-opacity="0.72"/>
<rect x="609.62" y="227" width="3" height="11" fill="#f23645"/>
<rect x="614.78" y="231.2" width="1.15" height="18.5" fill="#089981" fill-opacity="0.72"/>
<rect x="613.86" y="235.5" width="3" height="2.8" fill="#089981"/>
<rect x="619.01" y="190.2" width="1.15" height="50.8" fill="#089981" fill-opacity="0.72"/>
<rect x="618.09" y="199.2" width="3" height="33.3" fill="#089981"/>
<rect x="623.25" y="191.3" width="1.15" height="13.4" fill="#f23645" fill-opacity="0.72"/>
<rect x="622.33" y="200" width="3" height="3.8" fill="#f23645"/>
<rect x="627.49" y="195.8" width="1.15" height="22.9" fill="#f23645" fill-opacity="0.72"/>
<rect x="626.56" y="201.7" width="3" height="10" fill="#f23645"/>
<rect x="631.72" y="207.5" width="1.15" height="10.8" fill="#f23645" fill-opacity="0.72"/>
<rect x="630.8" y="210.8" width="3" height="5" fill="#f23645"/>
<rect x="635.96" y="198.8" width="1.15" height="45.7" fill="#f23645" fill-opacity="0.72"/>
<rect x="635.03" y="209.5" width="3" height="14.3" fill="#f23645"/>
<rect x="640.19" y="213" width="1.15" height="14" fill="#089981" fill-opacity="0.72"/>
<rect x="639.27" y="220" width="3" height="4.2" fill="#089981"/>
<rect x="644.42" y="205.5" width="1.15" height="63.2" fill="#f23645" fill-opacity="0.72"/>
<rect x="643.5" y="218.8" width="3" height="32.9" fill="#f23645"/>
<rect x="648.66" y="249.7" width="1.15" height="14.1" fill="#f23645" fill-opacity="0.72"/>
<rect x="647.74" y="251.7" width="3" height="8.3" fill="#f23645"/>
<rect x="652.89" y="256.2" width="1.15" height="34.6" fill="#089981" fill-opacity="0.72"/>
<rect x="651.97" y="260" width="3" height="10.5" fill="#089981"/>
<rect x="657.13" y="258.3" width="1.15" height="24.2" fill="#f23645" fill-opacity="0.72"/>
<rect x="656.21" y="261.7" width="3" height="19.1" fill="#f23645"/>
<rect x="661.37" y="275" width="1.15" height="27.8" fill="#089981" fill-opacity="0.72"/>
<rect x="660.44" y="279.7" width="3" height="1.1" fill="#089981"/>
<rect x="665.6" y="274.7" width="1.15" height="10" fill="#f23645" fill-opacity="0.72"/>
<rect x="664.68" y="279.7" width="3" height="2" fill="#f23645"/>
<rect x="669.84" y="274.2" width="1.15" height="30.3" fill="#089981" fill-opacity="0.72"/>
<rect x="668.91" y="278" width="3" height="15.7" fill="#089981"/>
<rect x="674.07" y="270.8" width="1.15" height="16.7" fill="#089981" fill-opacity="0.72"/>
<rect x="673.15" y="273.7" width="3" height="4.3" fill="#089981"/>
<rect x="678.3" y="265" width="1.15" height="21.2" fill="#089981" fill-opacity="0.72"/>
<rect x="677.38" y="269.5" width="3" height="13.5" fill="#089981"/>
<rect x="682.54" y="268.3" width="1.15" height="8.9" fill="#f23645" fill-opacity="0.72"/>
<rect x="681.62" y="269.2" width="3" height="1.3" fill="#f23645"/>
</g>
<line x1="7.5" y1="270.2" x2="728" y2="270.2" stroke="#f23645" stroke-width="0.9" stroke-dasharray="1.23 1.23" opacity="0.6"/>
<text x="733.8" y="35.25" font-size="8.9" textLength="25.3" lengthAdjust="spacingAndGlyphs" fill="#1e222d">760.00</text>
<text x="733.8" y="76.58" font-size="8.9" textLength="25.3" lengthAdjust="spacingAndGlyphs" fill="#1e222d">740.00</text>
<text x="733.8" y="117.91" font-size="8.9" textLength="25.3" lengthAdjust="spacingAndGlyphs" fill="#1e222d">720.00</text>
<text x="733.8" y="159.24" font-size="8.9" textLength="25.3" lengthAdjust="spacingAndGlyphs" fill="#1e222d">700.00</text>
<text x="733.8" y="200.57" font-size="8.9" textLength="25.3" lengthAdjust="spacingAndGlyphs" fill="#1e222d">680.00</text>
<text x="733.8" y="241.9" font-size="8.9" textLength="25.3" lengthAdjust="spacingAndGlyphs" fill="#1e222d">660.00</text>
<text x="733.8" y="283.23" font-size="8.9" textLength="25.3" lengthAdjust="spacingAndGlyphs" fill="#1e222d">640.00</text>
<text x="733.8" y="324.56" font-size="8.9" textLength="25.3" lengthAdjust="spacingAndGlyphs" fill="#1e222d">620.00</text>
<text x="733.8" y="365.89" font-size="8.9" textLength="25.3" lengthAdjust="spacingAndGlyphs" fill="#1e222d">600.00</text>
<text x="733.8" y="407.22" font-size="8.9" textLength="25.3" lengthAdjust="spacingAndGlyphs" fill="#1e222d">580.00</text>
<rect x="728" y="264.2" width="34.5" height="11.6" rx="1" fill="#f23645"/>
<text x="734.3" y="273.3" font-size="8.9" textLength="24.9" lengthAdjust="spacingAndGlyphs" fill="#fff">644.83</text>
<rect x="728" y="426" width="41" height="11.8" rx="1" fill="#f0534f"/>
<text x="734.2" y="435.1" font-size="8.9" textLength="31.6" lengthAdjust="spacingAndGlyphs" fill="#fff">301.19K</text>
<text x="61.8" y="450.8" font-size="8.9" textLength="14" lengthAdjust="spacingAndGlyphs" fill="#1e222d">Nov</text>
<text x="218.85" y="450.8" font-size="8.9" textLength="13.7" lengthAdjust="spacingAndGlyphs" fill="#1e222d">Dec</text>
<text x="398.35" y="450.8" font-size="8.9" textLength="18.9" lengthAdjust="spacingAndGlyphs" font-weight="bold" fill="#1e222d">2026</text>
<text x="570.45" y="450.8" font-size="8.9" textLength="13.7" lengthAdjust="spacingAndGlyphs" fill="#1e222d">Feb</text>
<text x="13" y="3.6" font-size="8.9" textLength="77.5" lengthAdjust="spacingAndGlyphs" fill="#1e222d">Meta Platforms, Inc.</text>
<text x="94.5" y="3.6" font-size="8.9" text-anchor="middle" fill="#1e222d">·</text>
<text x="98.3" y="3.6" font-size="8.9" textLength="8" lengthAdjust="spacingAndGlyphs" fill="#1e222d">4h</text>
<text x="110" y="3.6" font-size="8.9" text-anchor="middle" fill="#1e222d">·</text>
<text x="115.8" y="3.6" font-size="8.9" textLength="30.9" lengthAdjust="spacingAndGlyphs" fill="#1e222d">NASDAQ</text>
<text x="152.5" y="3.6" font-size="8.9" textLength="4.7" lengthAdjust="spacingAndGlyphs" fill="#1e222d">O</text>
<text x="157.5" y="3.6" font-size="8.9" textLength="25" lengthAdjust="spacingAndGlyphs" fill-opacity="0.9" fill="#f23645">645.00</text>
<text x="188.3" y="3.6" font-size="8.9" textLength="4.7" lengthAdjust="spacingAndGlyphs" fill="#1e222d">H</text>
<text x="193.3" y="3.6" font-size="8.9" textLength="24.7" lengthAdjust="spacingAndGlyphs" fill-opacity="0.9" fill="#f23645">645.32</text>
<text x="223.7" y="3.6" font-size="8.9" textLength="3.5" lengthAdjust="spacingAndGlyphs" fill="#1e222d">L</text>
<text x="227.5" y="3.6" font-size="8.9" textLength="25" lengthAdjust="spacingAndGlyphs" fill-opacity="0.9" fill="#f23645">641.20</text>
<text x="258.3" y="3.6" font-size="8.9" textLength="4.5" lengthAdjust="spacingAndGlyphs" fill="#1e222d">C</text>
<text x="263" y="3.6" font-size="8.9" textLength="25.3" lengthAdjust="spacingAndGlyphs" fill-opacity="0.9" fill="#f23645">644.83</text>
<text x="294.2" y="3.6" font-size="8.9" textLength="20" lengthAdjust="spacingAndGlyphs" fill-opacity="0.9" fill="#f23645">−0.32</text>
<text x="318" y="3.6" font-size="8.9" textLength="30.7" lengthAdjust="spacingAndGlyphs" fill-opacity="0.9" fill="#f23645">(−0.05%)</text>
<text x="13.1" y="15.5" font-size="8.9" textLength="11.1" lengthAdjust="spacingAndGlyphs" fill="#1e222d">Vol</text>
<text x="29.8" y="15.5" font-size="8.9" textLength="25.2" lengthAdjust="spacingAndGlyphs" fill-opacity="0.9" fill="#f23645">301.19</text>
<text x="56" y="15.5" font-size="8.9" textLength="4.8" lengthAdjust="spacingAndGlyphs" fill-opacity="0.9" fill="#f23645">K</text>
<path d="M38.85 422.85h9.8a1.4 1.4 0 0 1 1.4 1.4v7.8a1.4 1.4 0 0 1-.6 1.1l-5.2 2.8a.8.8 0 0 1-.9 0l-5.2-2.8a1.4 1.4 0 0 1-.6-1.1v-7.8a1.4 1.4 0 0 1 1.4-1.4z" fill="#fff" stroke="#f23645" stroke-width="1.25"/>
<text transform="translate(43.75 432.2) scale(0.95 1.2)" font-size="7.6" font-weight="bold" text-anchor="middle" fill="#f23645">E</text>
<circle cx="310.4" cy="428.2" r="7.0" fill="#fff" stroke="#2962ff" stroke-width="1.4"/>
<text transform="translate(310.55 431.7) scale(0.93 1.1)" font-size="8.4" font-weight="bold" text-anchor="middle" fill="#2962ff" stroke="#2962ff" stroke-width="0.3">D</text>
<path d="M556.85 434.5h-9.5a1.4 1.4 0 0 1-1.4-1.4v-6.8a1.4 1.4 0 0 1 .6-1.1l5.1-3.5a.8.8 0 0 1 .9 0l5.1 3.5a1.4 1.4 0 0 1 .6 1.1v6.8a1.4 1.4 0 0 1-1.4 1.4z" fill="#fff" stroke="#089981" stroke-width="1.25"/>
<text transform="translate(552.2 432.3) scale(0.93 1.28)" font-size="7.6" font-weight="bold" text-anchor="middle" fill="#089981">E</text>
<circle cx="683.4" cy="428.35" r="6.95" fill="#fff" stroke="#a22fbf" stroke-width="1.4"/>
<path d="M684.9 425L680.2 428.8H682.8L681 432.3L685.9 428.1H683.3Z" fill="#9c27b0" stroke="#9c27b0" stroke-width="0.35" stroke-linejoin="round"/>
<circle cx="688" cy="423.55" r="3.1" fill="#fff"/>
<circle cx="688" cy="423.55" r="1.95" fill="#f23645"/>
</svg></body></html>
